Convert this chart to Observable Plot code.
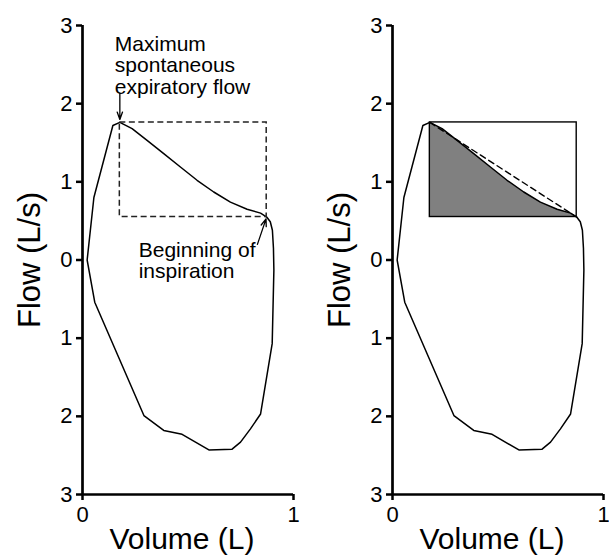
<!DOCTYPE html>
<html><head><meta charset="utf-8">
<script src="https://cdn.jsdelivr.net/npm/d3@7"></script>
<script src="https://cdn.jsdelivr.net/npm/@observablehq/plot@0.6"></script>
<style>
body{margin:0;background:#fff}
#wrap{display:flex;width:609px;height:555px;overflow:hidden}
#wrap svg{overflow:visible;flex:none}
</style>
</head><body><div id="wrap"></div>
<script>
// Expiration: from maximum spontaneous expiratory flow to beginning of inspiration
const expVolume = [0.177, 0.235, 0.306, 0.385, 0.464, 0.543, 0.622, 0.701, 0.780, 0.844, 0.873];
const expFlow   = [1.76,  1.68,  1.53,  1.36,  1.19,  1.02,  0.87,  0.74,  0.65,  0.60,  0.55];
// Rest of the loop (inspiration, then early expiration back to the peak); inspiration flow is negative
const inspVolume = [0.890, 0.900, 0.905, 0.907, 0.899, 0.844, 0.796, 0.749, 0.709, 0.599, 0.472, 0.385, 0.291, 0.058, 0.022, 0.054, 0.144, 0.177];
const inspFlow   = [0.49,  0.38,  0.15,  -0.13, -1.07, -1.97, -2.16, -2.33, -2.42, -2.43, -2.23, -2.18, -1.99, -0.54, 0.00,  0.80,  1.72,  1.76];
const yTicks = [-3, -2, -1, 0, 1, 2, 3];
const xTicks = [0, 1];
const xLabel = "Volume (L)";
const yLabel = "Flow (L/s)";
const peakNote = "Maximum\nspontaneous\nexpiratory flow";
const inspNote = "Beginning of\ninspiration";

const expData = expVolume.map((v, i) => ({volume: v, flow: expFlow[i]}));
const loopData = expData.concat(inspVolume.map((v, i) => ({volume: v, flow: inspFlow[i]})));
const peak = expData[0];
const start = expData[expData.length - 1];
const box = [{x1: peak.volume, x2: start.volume, y1: start.flow, y2: peak.flow}];

const FONT = "Liberation Sans, Arial, Helvetica, sans-serif";

function panel(right) {
  const marks = [];
  if (right) {
    marks.push(Plot.areaY(expData, {x: "volume", y1: start.flow, y2: "flow", fill: "#808080"}));
  }
  marks.push(Plot.line(loopData, {x: "volume", y: "flow", stroke: "black", strokeWidth: 1.5}));
  if (right) {
    marks.push(Plot.rect(box, {x1: "x1", x2: "x2", y1: "y1", y2: "y2", fill: "none", stroke: "black", strokeWidth: 1.4}));
    marks.push(Plot.line([peak, start], {x: "volume", y: "flow", stroke: "black", strokeWidth: 1.4, strokeDasharray: "6,4"}));
  } else {
    marks.push(Plot.rect(box, {x1: "x1", x2: "x2", y1: "y1", y2: "y2", fill: "none", stroke: "#222", strokeWidth: 1.5, strokeDasharray: "6,3.5"}));
    marks.push(Plot.text([peak], {x: "volume", y: "flow", text: () => peakNote, textAnchor: "start", lineAnchor: "top", dx: -5, dy: -87, fontSize: 21, lineHeight: 1.03}));
    marks.push(Plot.arrow([peak], {x1: "volume", y1: d => d.flow + 0.37, x2: "volume", y2: "flow", stroke: "black", strokeWidth: 1.3, headLength: 9, headAngle: 40, insetEnd: 3}));
    marks.push(Plot.text([start], {x: "volume", y: "flow", text: () => inspNote, textAnchor: "start", lineAnchor: "top", dx: -128, dy: 25, fontSize: 21, lineHeight: 1.0}));
    marks.push(Plot.arrow([start], {x1: d => d.volume - 0.044, y1: d => d.flow - 0.35, x2: "volume", y2: "flow", stroke: "black", strokeWidth: 1.3, headLength: 9, headAngle: 40, insetEnd: 2}));
  }
  marks.push(
    Plot.ruleX([0], {stroke: "black", strokeWidth: 2.7}),
    Plot.ruleY([-3], {stroke: "black", strokeWidth: 2.7}),
    Plot.axisY({ticks: yTicks, tickFormat: d => Math.abs(d), tickSize: 6, tickPadding: 4, strokeWidth: 2.5, stroke: "black", label: null, fontSize: 22}),
    Plot.axisX({ticks: xTicks, tickFormat: d => String(d), tickSize: 6, tickPadding: 6, strokeWidth: 2.5, stroke: "black", label: null, fontSize: 22}),
    Plot.text([yLabel], {text: d => d, frameAnchor: "left", rotate: -90, dx: -52, fontSize: 31, textAnchor: "middle"}),
    Plot.text([xLabel], {text: d => d, frameAnchor: "bottom", lineAnchor: "top", dy: 33, dx: -6, fontSize: 30})
  );
  return Plot.plot({
    width: right ? 305 : 304,
    height: 555,
    marginLeft: right ? 88 : 82,
    marginRight: right ? 6 : 11,
    marginTop: 25,
    marginBottom: 61,
    x: {domain: [0, 1]},
    y: {domain: [-3, 3]},
    style: {fontFamily: FONT, fontSize: "22px", color: "black", background: "white", overflow: "visible"},
    marks
  });
}

const wrap = document.getElementById("wrap");
wrap.appendChild(panel(false));
wrap.appendChild(panel(true));
</script>
</body></html>
